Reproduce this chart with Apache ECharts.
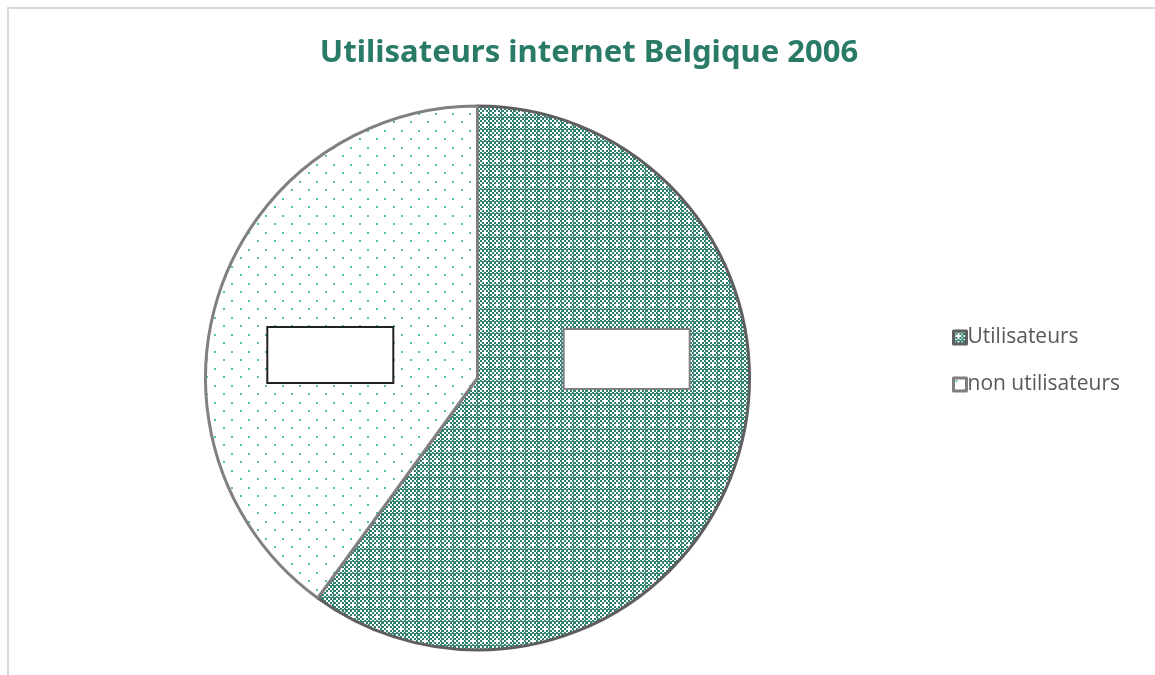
<!DOCTYPE html>
<html>
<head>
<meta charset="utf-8">
<script src="https://cdn.jsdelivr.net/npm/echarts@6/dist/echarts.min.js"></script>
<style>
  html, body { margin: 0; padding: 0; background: #fff; overflow: hidden; }
  #frame { position: absolute; left: 7px; top: 7px; width: 1160px; height: 680px;
           border-top: 2px solid #d9d9d9; border-left: 2px solid #d9d9d9; }
  #main { position: absolute; left: 0; top: 0; width: 1155px; height: 675px; }
</style>
</head>
<body>
<div id="frame"></div>
<div id="main"></div>
<script>
  const title = 'Utilisateurs internet Belgique 2006';
  const categories = ['Utilisateurs', 'non utilisateurs'];
  const values = [60, 40];

  // Excel-like pattern fills
  const makeDense = () => {
    const c = document.createElement('canvas');
    c.width = 12; c.height = 12;
    const ctx = c.getContext('2d');
    ctx.fillStyle = '#ffffff';
    ctx.fillRect(0, 0, 12, 12);
    ctx.fillStyle = '#2b7d6c';
    for (let y = 0; y < 12; y += 2) {
      for (let x = 0; x < 12; x += 2) {
        if (((x + y) / 2) % 2 === 0) ctx.fillRect(x, y, 2, 2);
      }
    }
    ctx.fillStyle = '#3f8b7b';
    ctx.fillRect(0, 9, 12, 1);
    ctx.fillRect(9, 0, 1, 12);
    ctx.fillStyle = '#ffffff';
    ctx.fillRect(4, 4, 2, 2);
    return c;
  };

  const makeDots = () => {
    const c = document.createElement('canvas');
    c.width = 17; c.height = 17;
    const ctx = c.getContext('2d');
    ctx.fillStyle = '#ffffff';
    ctx.fillRect(0, 0, 17, 17);
    ctx.fillStyle = '#52c1aa';
    ctx.fillRect(2, 2, 2, 2);
    ctx.fillRect(10, 11, 2, 2);
    return c;
  };

  const fills = [
    { image: makeDense(), repeat: 'repeat' },
    { image: makeDots(), repeat: 'repeat' }
  ];
  const borders = ['#5f5f5f', '#808080'];
  const labelBorders = ['#808080', '#222222'];
  const labelOffsets = [[17, -62], [-15, 20]];
  const labelHeights = [58, 54];

  const chart = echarts.init(document.getElementById('main'));
  chart.setOption({
    animation: false,
    title: {
      text: title,
      left: 584,
      textAlign: 'center',
      top: 33,
      textStyle: { fontFamily: 'Noto Sans', fontWeight: 'bold', fontSize: 31, color: '#2a7a68' }
    },
    legend: {
      orient: 'vertical',
      left: 947,
      top: 322,
      itemWidth: 13,
      itemHeight: 13,
      itemGap: 26,
      icon: 'rect',
      itemStyle: { borderWidth: 3 },
      textStyle: { fontFamily: 'Open Sans', fontSize: 21, color: '#595959', padding: [0, 0, 0, -4] },
      data: categories
    },
    series: [{
      type: 'pie',
      center: [477.5, 378],
      radius: [0, 272],
      startAngle: 90,
      clockwise: true,
      silent: true,
      label: {
        show: true,
        position: 'inside',
        formatter: ' ',
        width: 124,
        backgroundColor: '#ffffff',
        borderWidth: 2
      },
      labelLine: { show: false },
      data: categories.map((name, i) => ({
        name: name,
        value: values[i],
        itemStyle: { color: fills[i], borderColor: borders[i], borderWidth: 3 },
        label: { borderColor: labelBorders[i], offset: labelOffsets[i], height: labelHeights[i] }
      }))
    }]
  });
</script>
</body>
</html>
